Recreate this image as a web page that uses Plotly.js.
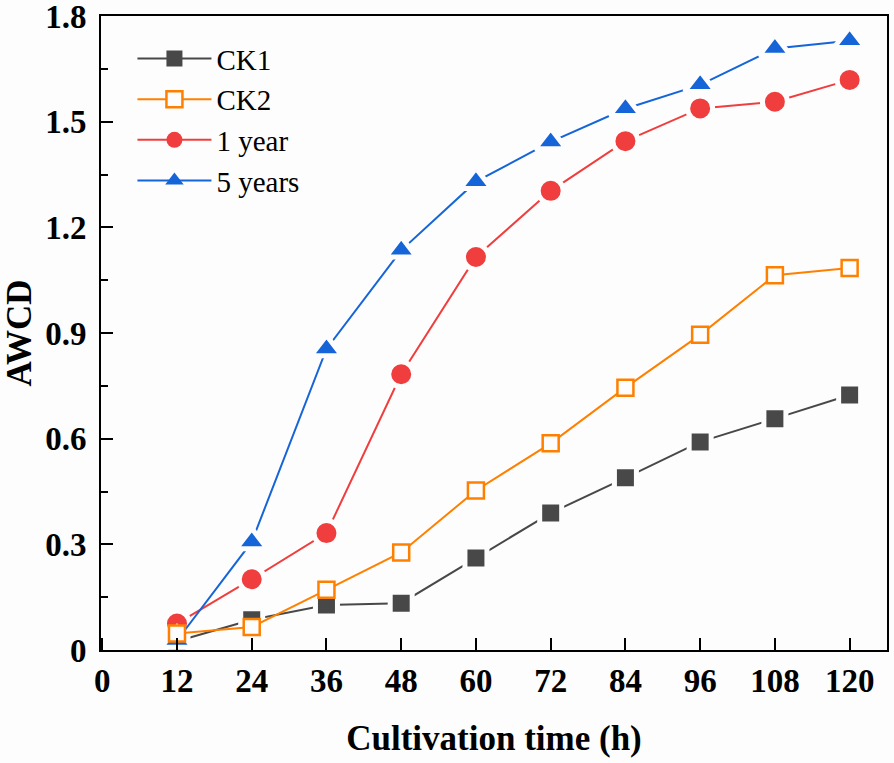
<!DOCTYPE html>
<html>
<head>
<meta charset="utf-8">
<script src="https://cdn.plot.ly/plotly-3.0.1.min.js"></script>
<style>
  html, body { margin: 0; padding: 0; background: #fdfdfd; }
  #chart { width: 894px; height: 763px; }
</style>
</head>
<body>
<div id="chart"></div>
<script>
/* ---- Data (AWCD over cultivation time) ---- */
const hours = [12, 24, 36, 48, 60, 72, 84, 96, 108, 120];
const ck1 = [0.025, 0.086, 0.128, 0.133, 0.261, 0.389, 0.489, 0.591, 0.657, 0.724];
const ck2 = [0.047, 0.065, 0.171, 0.277, 0.453, 0.587, 0.745, 0.895, 1.064, 1.085];
const year1 = [0.075, 0.201, 0.332, 0.783, 1.116, 1.304, 1.445, 1.538, 1.557, 1.619];
const year5 = [0.027, 0.307, 0.855, 1.135, 1.33, 1.443, 1.537, 1.605, 1.708, 1.73];
const xTicks = [0, 12, 24, 36, 48, 60, 72, 84, 96, 108, 120];
const yTicks = [0, 0.3, 0.6, 0.9, 1.2, 1.5, 1.8];

const BG = '#fdfdfd';
const SERIF = '"Liberation Serif", "Times New Roman", serif';

const STYLE = {
  'CK1':     { color: '#484848', symbol: 'square',      size: 22 },
  'CK2':     { color: '#ff8000', symbol: 'square',      size: 16, hollow: true },
  '1 year':  { color: '#f03e3e', symbol: 'circle',      size: 25 },
  '5 years': { color: '#1565d8', symbol: 'triangle-up', size: 27 },
};

// filled markers get a background-coloured rim so the line stops short of them
function series(name, y) {
  const s = STYLE[name];
  return {
    x: hours, y,
    type: 'scatter',
    mode: 'lines+markers',
    name,
    showlegend: false,
    line: { color: s.color, width: 2 },
    marker: s.hollow
      ? { symbol: s.symbol, size: s.size, color: BG, line: { color: s.color, width: 2.5 } }
      : { symbol: s.symbol, size: s.size, color: s.color, line: { color: BG, width: 5 } },
  };
}

// legend entries without the rim (legend caps marker size)
function legendEntry(name, rank) {
  const s = STYLE[name];
  return {
    x: [null], y: [null],
    type: 'scatter',
    mode: 'lines+markers',
    name,
    legendrank: rank,
    line: { color: s.color, width: 2 },
    marker: s.hollow
      ? { symbol: s.symbol, size: 16, color: BG, line: { color: s.color, width: 2.5 } }
      : { symbol: s.symbol, size: 16, color: s.color, line: { width: 0 } },
  };
}

// draw order: CK2 on top, as in the reference
const traces = [
  series('CK1', ck1),
  series('1 year', year1),
  series('5 years', year5),
  series('CK2', ck2),
  legendEntry('CK1', 1),
  legendEntry('CK2', 2),
  legendEntry('1 year', 3),
  legendEntry('5 years', 4),
];

const axisCommon = {
  showline: true, mirror: true, linecolor: '#000', linewidth: 2,
  ticks: 'inside', tickcolor: '#000', tickwidth: 2, ticklen: 12,
  showgrid: false, zeroline: false,
  ticklabeloverflow: 'allow',
  tickfont: { family: SERIF, size: 33, color: '#000', weight: 'bold' },
};

const layout = {
  width: 894, height: 763,
  paper_bgcolor: BG, plot_bgcolor: BG,
  margin: { l: 101, r: 7, t: 16, b: 113 },
  font: { family: SERIF, color: '#000' },
  xaxis: {
    ...axisCommon,
    range: [-0.2, 126],
    tickvals: xTicks,
    title: { text: 'Cultivation time (h)', standoff: 28,
             font: { family: SERIF, size: 35, color: '#000', weight: 'bold' } },
  },
  yaxis: {
    ...axisCommon,
    range: [0, 1.8005],
    tickvals: yTicks,
    ticklabelstandoff: 6,
    minor: { ticks: 'inside', ticklen: 7, tickwidth: 2, tickcolor: '#000', dtick: 0.15, showgrid: false },
    title: { text: 'AWCD', standoff: 12,
             font: { family: SERIF, size: 35, color: '#000', weight: 'bold' } },
  },
  legend: {
    x: 0.04, y: 0.973, xanchor: 'left', yanchor: 'top',
    bgcolor: 'rgba(0,0,0,0)',
    itemwidth: 74,
    tracegroupgap: 0,
    font: { family: SERIF, size: 29, color: '#000' },
  },
};

Plotly.newPlot('chart', traces, layout, { displayModeBar: false, staticPlot: true });
</script>
</body>
</html>
